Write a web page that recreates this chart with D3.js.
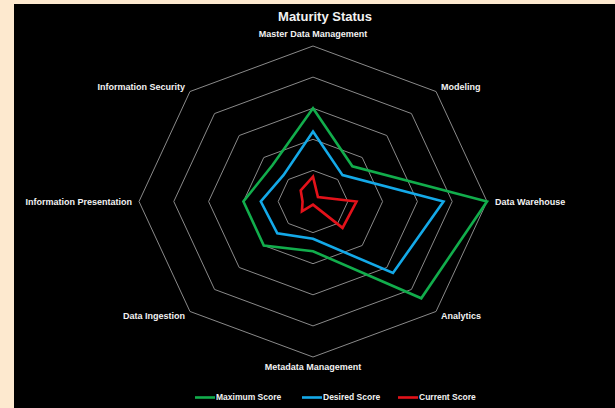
<!DOCTYPE html>
<html>
<head>
<meta charset="utf-8">
<script src="https://cdn.jsdelivr.net/npm/d3@7"></script>
<style>
  body { margin: 0; background: #fde9cf; }
  text { font-family: "Liberation Sans", Arial, sans-serif; fill: #f2f2f2; }
</style>
</head>
<body>
<svg width="615" height="408"></svg>
<script>
const categories = ["Master Data Management", "Modeling", "Data Warehouse", "Analytics",
    "Metadata Management", "Data Ingestion", "Information Presentation", "Information Security"]
const maximumScore = [3, 1.6, 5, 4.4, 1.6, 2, 2, 1.65]
const desiredScore = [2.25, 1.2, 3.75, 3.25, 1.2, 1.45, 1.5, 1.2]
const currentScore = [0.8, 0.2, 1.25, 1.2, 0.1, 0.45, 0.3, 0.5]
const ringTicks = [1, 2, 3, 4, 5]
const seriesNames = ["Maximum Score", "Desired Score", "Current Score"]

var colors = ["#12ad4c", "#14a9e8", "#e3121a"]
var cx = 313, cy = 201.5

var svg = d3.select("svg")
svg.append("rect").attr("width", 615).attr("height", 408).attr("fill", "#fde9cf")
svg.append("rect").attr("x", 14).attr("y", 4).attr("width", 601).attr("height", 404).attr("fill", "#000")

// the picture is stretched a bit sideways, so x and y get their own radius
var rx = d3.scaleLinear().domain([0, 5]).range([0, 174])
var ry = d3.scaleLinear().domain([0, 5]).range([0, 155.5])
var angle = d3.scaleLinear().domain([0, categories.length]).range([0, 2 * Math.PI])

function px(i, v) { return cx + rx(v) * Math.sin(angle(i)) }
function py(i, v) { return cy - ry(v) * Math.cos(angle(i)) }

var lineGen = d3.line().x(d => px(d.i, d.v)).y(d => py(d.i, d.v)).curve(d3.curveLinearClosed)

// gridline octagons
svg.append("g")
    .selectAll("path")
    .data(ringTicks)
    .join("path")
    .attr("d", t => lineGen(categories.map((c, i) => ({ i: i, v: t }))))
    .attr("fill", "none")
    .attr("stroke", "#8a8a8a")
    .attr("stroke-width", 1)

// series
var allSeries = [maximumScore, desiredScore, currentScore]
svg.append("g")
    .selectAll("path")
    .data(allSeries)
    .join("path")
    .attr("d", s => lineGen(s.map((v, i) => ({ i: i, v: v }))))
    .attr("fill", "none")
    .attr("stroke", (s, k) => colors[k])
    .attr("stroke-width", 2.6)
    .attr("stroke-linejoin", "miter")

// axis labels
var labelOffsets = [[0, -12], [5, -5], [8, 0], [5, 4.5], [0, 10], [-5, 4], [-7, 0], [-5, -5]]
svg.append("g")
    .selectAll("text")
    .data(categories)
    .join("text")
    .attr("x", (c, i) => px(i, 5) + labelOffsets[i][0])
    .attr("y", (c, i) => py(i, 5) + labelOffsets[i][1])
    .attr("dy", "0.35em")
    .attr("text-anchor", (c, i) => {
        var s = Math.sin(angle(i))
        return s > 0.1 ? "start" : s < -0.1 ? "end" : "middle"
    })
    .attr("font-size", 9)
    .attr("font-weight", "bold")
    .text(c => c)

svg.append("text")
    .attr("x", 325)
    .attr("y", 21)
    .attr("text-anchor", "middle")
    .attr("font-size", 13)
    .attr("font-weight", "bold")
    .text("Maturity Status")

// legend
var legendX = [195, 302, 398]
var legend = svg.append("g")
    .selectAll("g")
    .data(seriesNames)
    .join("g")
    .attr("transform", (d, k) => `translate(${legendX[k]},397.5)`)
legend.append("line")
    .attr("x1", 0).attr("x2", 20)
    .attr("stroke", (d, k) => colors[k])
    .attr("stroke-width", 2.6)
legend.append("text")
    .attr("x", 21)
    .attr("dy", "0.35em")
    .attr("font-size", 8.5)
    .attr("font-weight", "bold")
    .text(d => d)
</script>
</body>
</html>
